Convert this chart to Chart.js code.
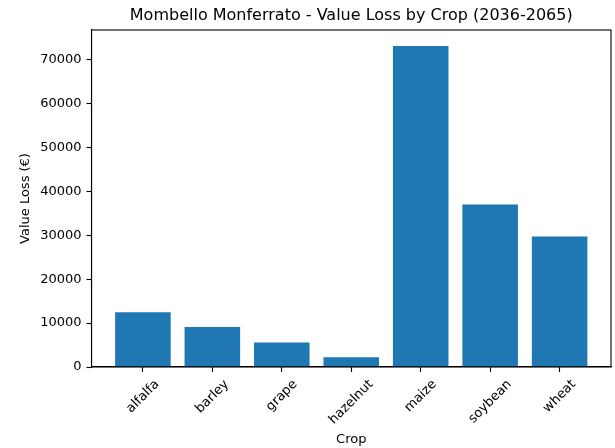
<!DOCTYPE html>
<html>
<head>
<meta charset="utf-8">
<script src="https://cdn.jsdelivr.net/npm/chart.js@4.4.1/dist/chart.umd.min.js"></script>
<style>
  html, body { margin: 0; padding: 0; background: #ffffff; }
  #wrap { position: relative; width: 615px; height: 448px; }
</style>
</head>
<body>
<div id="wrap"><canvas id="chart" width="615" height="448"></canvas></div>
<script>
// Crop names and projected value loss (€) for 2036-2065
const crops = ["alfalfa", "barley", "grape", "hazelnut", "maize", "soybean", "wheat"];
const valueLoss = [12450, 9100, 5600, 2200, 73050, 37000, 29700];
const yTicks = [0, 10000, 20000, 30000, 40000, 50000, 60000, 70000];

const FONT = "'DejaVu Sans', sans-serif";
const BAR_COLOR = "#1f77b4";

// Bars sit at integer positions on a linear axis with a small margin on both sides
const xMin = -0.4 - 0.05 * (crops.length - 1 + 0.8);
const xMax = crops.length - 1 + 0.4 + 0.05 * (crops.length - 1 + 0.8);
const yMax = Math.max(...valueLoss) * 1.05;

const points = crops.map((c, i) => ({ x: i, y: valueLoss[i] }));

// Frame around the plot area, drawn over the bars
const framePlugin = {
  id: "frame",
  afterDatasetsDraw(chart) {
    const { ctx, chartArea: a } = chart;
    ctx.save();
    ctx.strokeStyle = "#000000";
    ctx.lineWidth = 1.1;
    ctx.strokeRect(a.left, a.top, a.right - a.left, a.bottom - a.top);
    ctx.restore();
  }
};

// Category names under each tick, rotated 45° and centred on the tick
const crossLabelPlugin = {
  id: "crossLabels",
  afterDraw(chart) {
    const { ctx } = chart;
    const xs = chart.scales.x;
    const y0 = chart.chartArea.bottom + 10;
    ctx.save();
    ctx.font = "13px " + FONT;
    ctx.fillStyle = "#000000";
    ctx.textAlign = "center";
    ctx.textBaseline = "middle";
    const c = Math.SQRT1_2;
    crops.forEach((name, i) => {
      const x = xs.getPixelForValue(i);
      const w = ctx.measureText(name).width;
      const h = 15;
      const box = (w + h) * c;
      ctx.save();
      ctx.translate(x, y0 + box / 2);
      ctx.rotate(-Math.PI / 4);
      ctx.fillText(name, 0, 0);
      ctx.restore();
    });
    ctx.restore();
  }
};

new Chart(document.getElementById("chart"), {
  type: "bar",
  data: {
    datasets: [{
      label: "Value Loss (€)",
      data: points,
      backgroundColor: BAR_COLOR,
      borderWidth: 0,
      categoryPercentage: 1.0,
      barPercentage: 0.8
    }]
  },
  options: {
    responsive: false,
    animation: false,
    devicePixelRatio: 1,
    layout: { padding: { left: 0, right: 4, top: 0, bottom: 0 } },
    plugins: {
      legend: { display: false },
      tooltip: { enabled: false },
      title: {
        display: true,
        text: "Mombello Monferrato - Value Loss by Crop (2036-2065)",
        color: "#000000",
        fullSize: false,
        font: { family: FONT, size: 16, weight: "normal", lineHeight: 1.2 },
        padding: { top: 6, bottom: 4.8 }
      }
    },
    scales: {
      x: {
        type: "linear",
        min: xMin,
        max: xMax,
        offset: false,
        afterBuildTicks(scale) {
          scale.ticks = crops.map((c, i) => ({ value: i }));
        },
        afterFit(scale) { scale.height = 81; },
        ticks: { display: false },
        grid: {
          offset: false,
          drawOnChartArea: false,
          drawTicks: true,
          tickLength: 5,
          tickWidth: 1.1,
          color: "#000000"
        },
        border: { display: true, color: "#000000", width: 1.1 },
        title: {
          display: true,
          text: "Crop",
          color: "#000000",
          font: { family: FONT, size: 13, lineHeight: 1.2 },
          padding: { top: 0, bottom: 1 }
        }
      },
      y: {
        type: "linear",
        min: 0,
        max: yMax,
        afterBuildTicks(scale) {
          scale.ticks = yTicks.map((v) => ({ value: v }));
        },
        afterFit(scale) { scale.width = 91.5; },
        ticks: {
          color: "#000000",
          padding: 5,
          font: { family: FONT, size: 13 },
          callback: (v) => String(v)
        },
        grid: {
          offset: false,
          drawOnChartArea: false,
          drawTicks: true,
          tickLength: 5,
          tickWidth: 1.1,
          color: "#000000"
        },
        border: { display: true, color: "#000000", width: 1.1 },
        title: {
          display: true,
          text: "Value Loss (€)",
          color: "#000000",
          font: { family: FONT, size: 13, lineHeight: 1.2 },
          padding: { top: 18, bottom: 0 }
        }
      }
    }
  },
  plugins: [framePlugin, crossLabelPlugin]
});
</script>
</body>
</html>
